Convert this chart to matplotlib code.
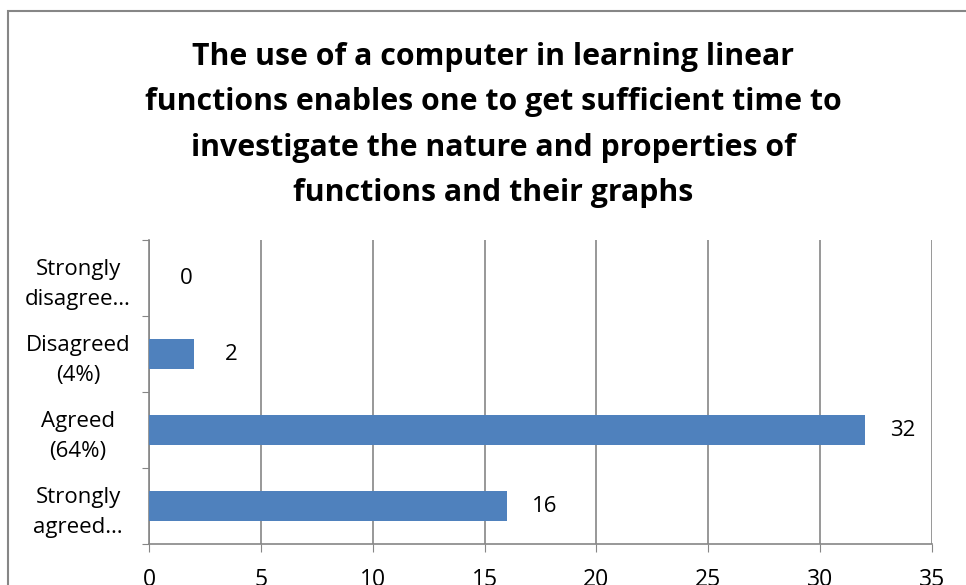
import matplotlib.pyplot as plt
from matplotlib.patches import Rectangle

plt.rcParams['font.family'] = ['Open Sans', 'DejaVu Sans']

# responses, bottom to top
categories = ['Strongly\nagreed…', 'Agreed\n(64%)', 'Disagreed\n(4%)', 'Strongly\ndisagree…']
counts = [16, 32, 2, 0]
xticks = [0, 5, 10, 15, 20, 25, 30, 35]

title = ('The use of a computer in learning linear\n'
         'functions enables one to get sufficient time to\n'
         'investigate the nature and properties of\n'
         'functions and their graphs')

W, H = 966, 585
fig = plt.figure(figsize=(W / 100, H / 100), dpi=100)
grey = '#868686'

# chart area frame (runs off the right and bottom edges)
fig.patches.append(Rectangle((8 / W, -0.1), 1.2, (H - 11) / H + 0.1,
                             transform=fig.transFigure, fill=False,
                             edgecolor=grey, linewidth=1.5))

fig.text(493 / W, (H - 125) / H, title, ha='center', va='center',
         fontsize=21.8, fontweight='bold', linespacing=1.66)

ax = fig.add_axes([149 / W, (H - 544) / H, (932 - 149) / W, (544 - 240) / H])
ypos = range(len(categories))
ax.barh(ypos, counts, height=0.4, color='#4f81bd', zorder=3)
ax.set_xlim(0, 35)
ax.set_ylim(-0.5, len(categories) - 0.5)

for y, v in zip(ypos, counts):
    ax.annotate(str(v), (v, y), xytext=(27, 0), textcoords='offset points',
                ha='center', va='center', fontsize=16)

ax.set_xticks(xticks)
ax.tick_params(axis='x', length=6, color=grey, labelsize=16.5, pad=11)
ax.grid(axis='x', color=grey, linewidth=1.2, zorder=0)

ax.set_yticks([i - 0.5 for i in range(len(categories) + 1)])
ax.set_yticklabels([])
ax.set_yticks(list(ypos), minor=True)
ax.set_yticklabels(categories, minor=True, fontsize=16, ha='center',
                   multialignment='center', linespacing=1.5)
ax.tick_params(axis='y', which='major', length=5, color=grey)
ax.tick_params(axis='y', which='minor', length=0, pad=51)

for s in ['top', 'right']:
    ax.spines[s].set_visible(False)
for s in ['left', 'bottom']:
    ax.spines[s].set_color(grey)
    ax.spines[s].set_linewidth(1.2)

fig.savefig('out.png', dpi=100)
